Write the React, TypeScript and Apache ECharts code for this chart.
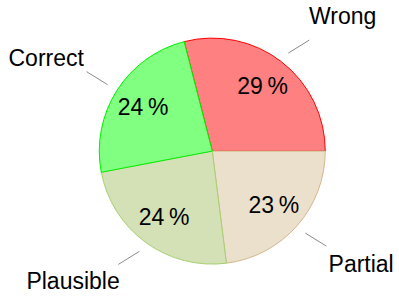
import React, { useEffect, useRef } from "react";
import * as echarts from "echarts";

const categories = ["Wrong", "Partial", "Plausible", "Correct"];
const percents = [29, 23, 24, 24];
const fills = ["#ff8080", "#ebe0cc", "#d4e0b6", "#80ff80"];
const borders = ["#ff0000", "#d4b88c", "#a8d070", "#00ee00"];

const FONT = "'Liberation Sans', Arial, Helvetica, sans-serif";
const CENTER = ["53.2%", "50.7%"];
const R = 113;

// small per-label nudges (dx, dy) for the outside name labels
const NUDGE: Record<string, [number, number]> = {
  Wrong: [2, 0],
  Partial: [-2, 0],
  Plausible: [-2, -8],
  Correct: [6, -1],
};

export default function App() {
  const ref = useRef<HTMLDivElement>(null);
  useEffect(() => {
    if (!ref.current) return;
    const chart = echarts.init(ref.current, undefined, { renderer: "svg" });
    const baseData = categories.map((name, i) => ({ name, value: percents[i] }));
    const transparent = { color: "rgba(0,0,0,0)", borderWidth: 0 };
    chart.setOption({
      animation: false,
      series: [
        {
          type: "pie",
          center: CENTER,
          radius: [0, R],
          startAngle: 104.4,
          clockwise: true,
          silent: true,
          label: { show: false },
          labelLine: { show: false },
          data: categories.map((name, i) => ({
            name,
            value: percents[i],
            itemStyle: { color: fills[i], borderColor: borders[i], borderWidth: 1 },
          })),
        },
        {
          type: "pie",
          center: CENTER,
          radius: [45, R],
          startAngle: 104.4,
          clockwise: true,
          silent: true,
          itemStyle: transparent,
          label: {
            show: true,
            position: "inside",
            formatter: (p: any) => `${p.value}\u2009%`,
            color: "#000",
            fontSize: 23,
            fontFamily: FONT,
          },
          labelLine: { show: false },
          data: baseData,
        },
        {
          type: "pie",
          center: CENTER,
          radius: [0, R],
          startAngle: 104.4,
          clockwise: true,
          silent: true,
          avoidLabelOverlap: false,
          itemStyle: transparent,
          label: {
            show: true,
            position: "outside",
            alignTo: "none",
            distanceToLabelLine: -10,
            formatter: "{b}",
            color: "#000",
            fontSize: 23,
            fontFamily: FONT,
          },
          labelLine: {
            show: true,
            length: 58,
            length2: 0,
            smooth: false,
            lineStyle: { color: "#8a8a8a", width: 1 },
          },
          labelLayout: (p: any) => {
            const pts = p.labelLinePoints;
            if (!pts || pts.length < 2) return {};
            const [x0, y0] = pts[0];
            const [x1, y1] = pts[1];
            const len = Math.hypot(x1 - x0, y1 - y0) || 1;
            const ux = (x1 - x0) / len;
            const uy = (y1 - y0) / len;
            const sx = x0 + ux * 11;
            const sy = y0 + uy * 11;
            const name = categories[p.dataIndex];
            const [dx, dy] = NUDGE[name] || [0, 0];
            return {
              dx,
              dy,
              labelLinePoints: [
                [sx, sy],
                [sx + Math.sign(ux) * 21, sy + Math.sign(uy) * 13],
              ],
            };
          },
          data: baseData,
        },
      ],
    });
    return () => chart.dispose();
  }, []);
  return (
    <div
      ref={ref}
      style={{ position: "fixed", left: 0, top: 0, width: 399, height: 298, background: "#fff" }}
    />
  );
}
